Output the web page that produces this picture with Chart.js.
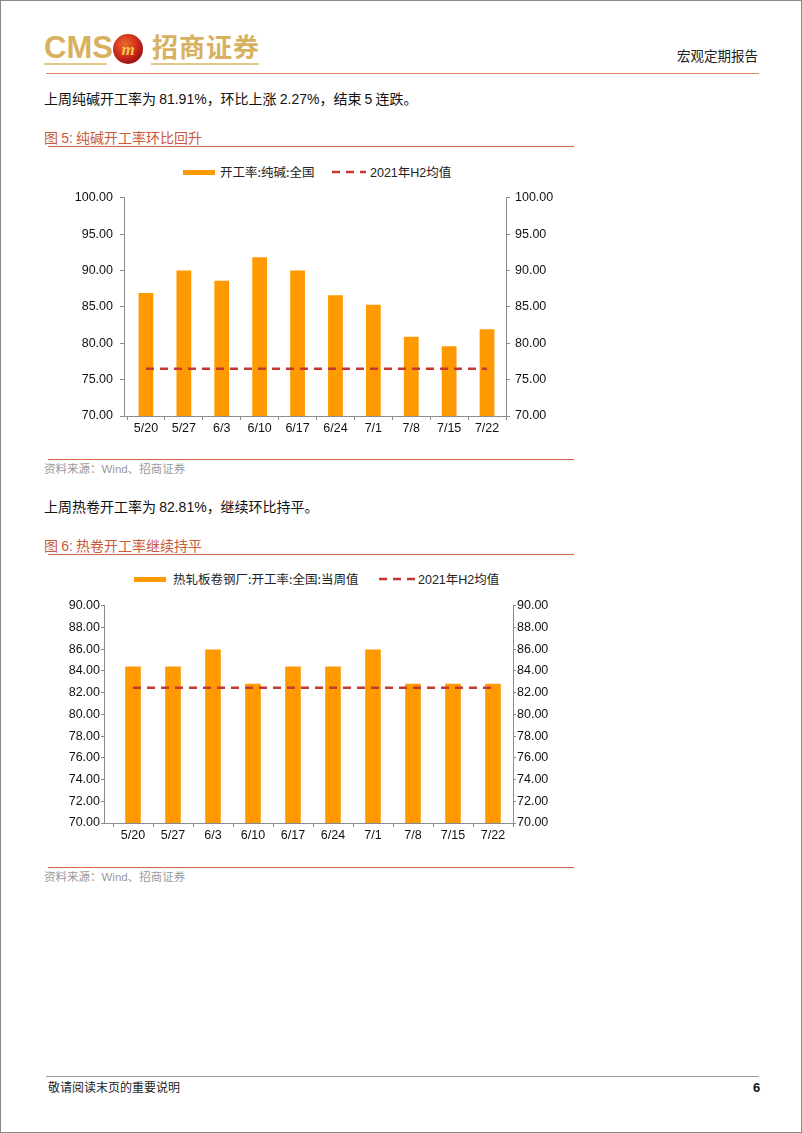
<!DOCTYPE html>
<html>
<head>
<meta charset="utf-8">
<script src="https://cdn.jsdelivr.net/npm/chart.js@4.4.1/dist/chart.umd.min.js"></script>
<style>
  html,body{margin:0;padding:0;background:#fff;}
  #page{position:relative;width:802px;height:1133px;box-sizing:border-box;border:1px solid #8a8a8a;overflow:hidden;
        font-family:"Noto Sans CJK SC","Liberation Sans",Arial,sans-serif;color:#111;}
  .abs{position:absolute;white-space:nowrap;line-height:1;}
  .num{font-family:"Liberation Sans",Arial,sans-serif;}
  .hline{position:absolute;height:0;}
  .leg{position:absolute;font-size:12.5px;line-height:1;white-space:nowrap;color:#222;}
  .legbar{position:absolute;height:5px;background:#FF9900;}
  canvas{position:absolute;}
</style>
</head>
<body>
<div id="page">
  <!-- logo -->
  <div class="abs" style="left:43px;top:31px;font-family:'Liberation Sans Narrow','Liberation Sans',Arial;font-weight:bold;font-size:31px;color:#D8B160;">CMS</div>
  <svg style="position:absolute;left:111px;top:32px" width="32" height="32" viewBox="0 0 32 32">
    <defs><radialGradient id="rg" cx="40%" cy="35%" r="65%"><stop offset="0" stop-color="#F06A2A"/><stop offset="0.7" stop-color="#C8261A"/><stop offset="1" stop-color="#9A1410"/></radialGradient></defs>
    <circle cx="16" cy="16" r="15" fill="url(#rg)"/>
    <text x="16" y="22" text-anchor="middle" font-family="Liberation Serif,serif" font-style="italic" font-weight="bold" font-size="17" fill="#F3C64E">m</text>
  </svg>
  <div class="abs" style="left:151px;top:32px;font-weight:bold;font-size:26px;color:#D8B160;letter-spacing:1px;">招商证券</div>
  <div class="hline" style="left:43px;top:62px;width:63px;border-top:2px solid #E3C88A;"></div>
  <div class="hline" style="left:150px;top:62px;width:108px;border-top:2px solid #E3C88A;"></div>
  <div class="abs" style="right:43px;top:48px;font-size:13.5px;color:#222;">宏观定期报告</div>
  <div class="hline" style="left:45px;top:72px;width:713px;border-top:1px solid #E08268;"></div>

  <div class="abs" style="left:43px;top:90px;font-size:14px;">上周纯碱开工率为 <span class="num">81.91%</span>，环比上涨 <span class="num">2.27%</span>，结束 <span class="num">5</span> 连跌。</div>

  <div class="abs" style="left:43px;top:129px;font-size:14px;color:#C85A3C;">图 <span class="num">5:</span> 纯碱开工率环比回升</div>
  <div class="hline" style="left:47px;top:145px;width:526px;border-top:1.5px solid #D2694B;"></div>

  <!-- legend 1 -->
  <div class="legbar" style="left:182px;top:169px;width:32px;"></div>
  <div class="leg" style="left:219px;top:165px;">开工率:纯碱:全国</div>
  <svg style="position:absolute;left:331px;top:168px" width="34" height="6"><line x1="0" y1="3" x2="34" y2="3" stroke="#C3392F" stroke-width="2.5" stroke-dasharray="8,6"/></svg>
  <div class="leg num" style="left:369px;top:165px;">2021<span style="font-family:'Noto Sans CJK SC'">年</span>H2<span style="font-family:'Noto Sans CJK SC'">均值</span></div>

  <canvas id="c1" width="500" height="260" style="left:60px;top:180px;"></canvas>

  <div class="hline" style="left:47px;top:458px;width:526px;border-top:1.5px solid #D2694B;"></div>
  <div class="abs" style="left:43px;top:462px;font-size:11.5px;color:#9a9a9a;">资料来源：<span class="num">Wind</span>、招商证券</div>

  <div class="abs" style="left:43px;top:498px;font-size:14px;">上周热卷开工率为 <span class="num">82.81%</span>，继续环比持平。</div>

  <div class="abs" style="left:43px;top:537px;font-size:14px;color:#C85A3C;">图 <span class="num">6:</span> 热卷开工率继续持平</div>
  <div class="hline" style="left:47px;top:553px;width:526px;border-top:1.5px solid #D2694B;"></div>

  <!-- legend 2 -->
  <div class="legbar" style="left:133px;top:576px;width:32px;"></div>
  <div class="leg" style="left:172px;top:572px;">热轧板卷钢厂:开工率:全国:当周值</div>
  <svg style="position:absolute;left:378px;top:575px" width="36" height="6"><line x1="0" y1="3" x2="36" y2="3" stroke="#C3392F" stroke-width="2.5" stroke-dasharray="8,6"/></svg>
  <div class="leg num" style="left:417px;top:572px;">2021<span style="font-family:'Noto Sans CJK SC'">年</span>H2<span style="font-family:'Noto Sans CJK SC'">均值</span></div>

  <canvas id="c2" width="530" height="255" style="left:40px;top:590px;"></canvas>

  <div class="hline" style="left:47px;top:866px;width:526px;border-top:1.5px solid #D2694B;"></div>
  <div class="abs" style="left:43px;top:870px;font-size:11.5px;color:#9a9a9a;">资料来源：<span class="num">Wind</span>、招商证券</div>

  <div class="hline" style="left:45px;top:1075px;width:713px;border-top:1px solid #999;"></div>
  <div class="abs" style="left:47px;top:1080px;font-size:12px;color:#222;">敬请阅读末页的重要说明</div>
  <div class="abs num" style="left:752px;top:1080px;font-size:13px;font-weight:bold;">6</div>
</div>

<script>
// ---- data ----
const weeks = ["5/20","5/27","6/3","6/10","6/17","6/24","7/1","7/8","7/15","7/22"];
const sodaAshRate = [86.9, 90.0, 88.6, 91.8, 90.0, 86.6, 85.3, 80.9, 79.6, 81.91];
const sodaAshH2Avg = [76.5, 76.5, 76.5, 76.5, 76.5, 76.5, 76.5, 76.5, 76.5, 76.5];
const hotCoilRate = [84.4, 84.4, 85.96, 82.81, 84.4, 84.4, 85.96, 82.81, 82.81, 82.81];
const hotCoilH2Avg = [82.45, 82.45, 82.45, 82.45, 82.45, 82.45, 82.45, 82.45, 82.45, 82.45];
const sodaAshTicks = {min: 70, max: 100, step: 5};
const hotCoilTicks = {min: 70, max: 90, step: 2};

const BAR = "#FF9900", DASH = "#C3392F", AXIS = "#8c8c8c";
const tickFont = {family: "'Liberation Sans', Arial, sans-serif", size: 12.5};

// The left value axis sits a few pixels left of where the category band starts.
const axisGapPlugin = {
  id: 'axisGap',
  afterLayout(chart) {
    const off = chart.options.plugins.axisGap.off;
    const y = chart.scales.y;
    y.left -= off; y.right -= off;
  },
  afterDraw(chart) {
    const off = chart.options.plugins.axisGap.off;
    const {ctx, chartArea} = chart;
    const yb = Math.round(chartArea.bottom) + 0.5;
    ctx.save();
    ctx.strokeStyle = AXIS; ctx.lineWidth = 1;
    ctx.beginPath();
    ctx.moveTo(Math.round(chartArea.left - off), yb);
    ctx.lineTo(Math.round(chartArea.left), yb);
    ctx.stroke();
    ctx.restore();
  }
};

function makeChart(id, values, avg, rng, g) {
  const yScale = (pos, width) => ({
    type: 'linear', position: pos, min: rng.min, max: rng.max,
    afterFit: s => { s.width = width; },
    border: {display: true, color: AXIS, width: 1},
    grid: {drawOnChartArea: false, drawTicks: true, tickLength: g.tick, color: AXIS},
    ticks: {stepSize: rng.step, color: '#111', font: tickFont, padding: pos === 'left' ? g.padL : g.padR,
            callback: v => Number(v).toFixed(2)}
  });
  return new Chart(document.getElementById(id), {
    plugins: [axisGapPlugin],
    data: {
      labels: weeks,
      datasets: [
        {type: 'line', data: avg, yAxisID: 'y', borderColor: DASH, borderWidth: 2.5,
         borderDash: [8, 6], pointRadius: 0, fill: false, order: 0},
        {type: 'bar', data: values, yAxisID: 'y', backgroundColor: BAR,
         categoryPercentage: 1, barPercentage: 0.39, order: 1}
      ]
    },
    options: {
      responsive: false, animation: false, devicePixelRatio: 1,
      layout: {padding: {top: g.top, left: 0, right: 0, bottom: 0}},
      plugins: {legend: {display: false}, tooltip: {enabled: false}, axisGap: {off: g.off}},
      scales: {
        x: {type: 'category', offset: true,
            afterFit: s => { s.height = g.xh; },
            border: {display: true, color: AXIS, width: 1},
            grid: {offset: true, drawOnChartArea: false, drawTicks: true, tickLength: 4, color: AXIS},
            ticks: {color: '#111', font: tickFont, padding: 1, maxRotation: 0, autoSkip: false}},
        y: yScale('left', g.lw + g.off),
        y2: yScale('right', g.rw)
      }
    }
  });
}

makeChart('c1', sodaAshRate, sodaAshH2Avg, sodaAshTicks, {top: 16.7, xh: 25, lw: 63, rw: 55, off: 3, tick: 4, padL: 7, padR: 5});
makeChart('c2', hotCoilRate, hotCoilH2Avg, hotCoilTicks, {top: 14.7, xh: 23, lw: 63, rw: 58, off: 9, tick: 3, padL: 1, padR: 1});
</script>
</body>
</html>
